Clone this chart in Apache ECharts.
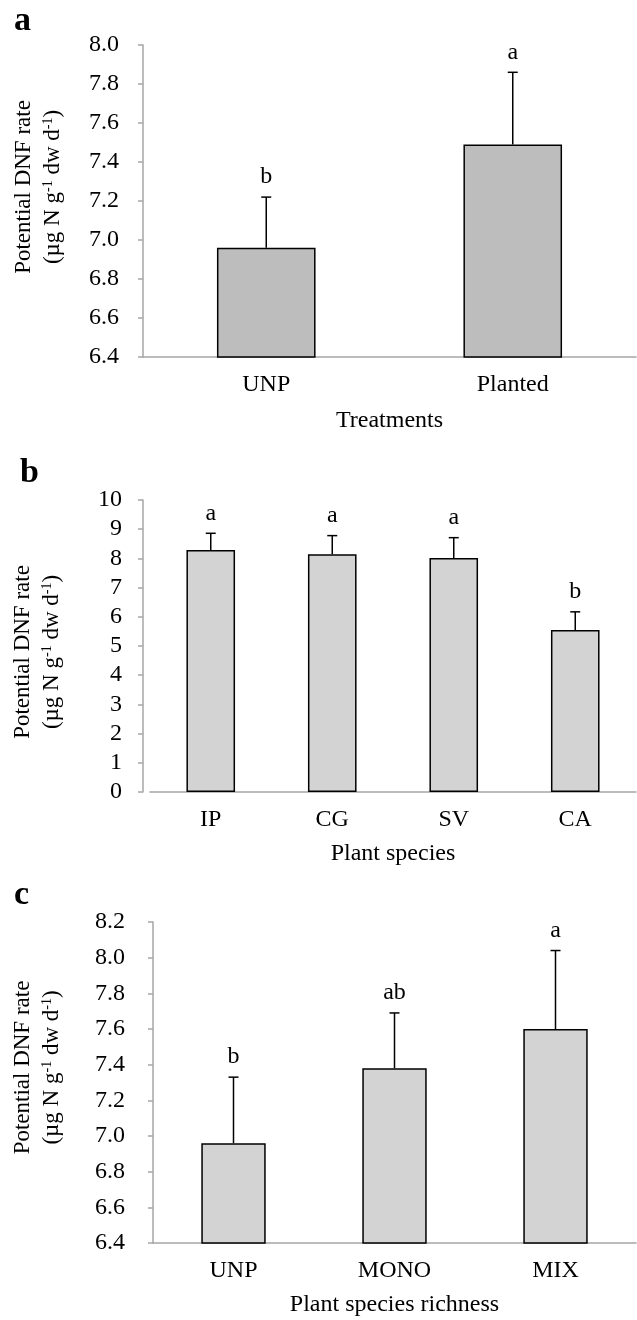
<!DOCTYPE html>
<html>
<head>
<meta charset="utf-8">
<script src="https://cdn.jsdelivr.net/npm/echarts@6/dist/echarts.min.js"></script>
<style>
  html, body { margin: 0; padding: 0; background: #fff; }
  #dnf { width: 637px; height: 1320px; }
</style>
</head>
<body>
<div id="dnf"></div>
<script>
// panel a - treatments
var catsA = ['UNP', 'Planted'];
var meanA = [6.96, 7.49];
var errA = [0.26, 0.37];
var letA = ['b', 'a'];
var ticksA = { min: 6.4, max: 8.0, interval: 0.2 };

// panel b - plant species
var catsB = ['IP', 'CG', 'SV', 'CA'];
var meanB = [8.29, 8.14, 8.01, 5.55];
var errB = [0.57, 0.64, 0.70, 0.62];
var letB = ['a', 'a', 'a', 'b'];
var ticksB = { min: 0, max: 10, interval: 1 };

// panel c - species richness
var catsC = ['UNP', 'MONO', 'MIX'];
var meanC = [6.96, 7.38, 7.60];
var errC = [0.37, 0.31, 0.44];
var letC = ['b', 'ab', 'a'];
var ticksC = { min: 6.4, max: 8.2, interval: 0.2 };

var FONT = '"Liberation Serif", "DejaVu Serif", serif';
var AXIS_COLOR = '#A6A6A6';

var myChart = echarts.init(document.getElementById('dnf'));

// y-axis title with superscripts
var yName = '{t|Potential DNF rate}\n{t|(µg N g}{s|-1}{t| dw d}{s|-1}{t|)}';
function yNameStyle(shift) {
  return {
    padding: shift > 0 ? [0, 0, 0, 2 * shift] : [0, -2 * shift, 0, 0],
    rich: {
      t: { fontSize: 23, fontFamily: FONT, color: '#000', lineHeight: 29, verticalAlign: 'bottom' },
      s: { fontSize: 14, fontFamily: FONT, color: '#000', lineHeight: 29, verticalAlign: 'bottom', padding: [0, 0, 9, 0] }
    }
  };
}

function makeX(idx, cats, name, gap) {
  return {
    type: 'category', gridIndex: idx, data: cats,
    axisLine: { lineStyle: { color: AXIS_COLOR, width: 1.5 } },
    axisTick: { length: 6, lineStyle: { color: AXIS_COLOR, width: 1.5 } },
    axisLabel: { fontSize: 24, fontFamily: FONT, color: '#000', margin: 16 },
    name: name, nameLocation: 'middle', nameGap: gap,
    nameTextStyle: { fontSize: 24, fontFamily: FONT, color: '#000' }
  };
}

function makeY(idx, t, fmt, margin, gap, shift, offset) {
  return {
    type: 'value', gridIndex: idx, min: t.min, max: t.max, interval: t.interval,
    offset: offset || 0,
    axisLine: { show: true, lineStyle: { color: AXIS_COLOR, width: 1.5 } },
    axisTick: { show: true, length: 5, lineStyle: { color: AXIS_COLOR, width: 1.5 } },
    splitLine: { show: false },
    axisLabel: {
      fontSize: 24, fontFamily: FONT, color: '#000', margin: margin,
      formatter: function (v) { return v.toFixed(fmt); }
    },
    name: yName, nameLocation: 'middle', nameRotate: 90, nameGap: gap,
    nameTextStyle: yNameStyle(shift)
  };
}

function bars(idx, vals, color) {
  return {
    type: 'bar', xAxisIndex: idx, yAxisIndex: idx, data: vals, barWidth: '40%',
    itemStyle: { color: color, borderColor: '#000', borderWidth: 1.5 },
    silent: true
  };
}

// error bar (upper half only) + significance letter
function errors(idx, vals, errs, letters) {
  var data = [];
  for (var i = 0; i < vals.length; i++) {
    data.push([i, vals[i], errs[i]]);
  }
  return {
    type: 'custom', xAxisIndex: idx, yAxisIndex: idx, data: data, z: 5,
    encode: { x: 0, y: 1 },
    renderItem: function (params, api) {
      var x = api.value(0), m = api.value(1), e = api.value(2);
      var base = api.coord([x, m]);
      var top = api.coord([x, m + e]);
      return {
        type: 'group',
        children: [
          { type: 'line', shape: { x1: base[0], y1: base[1], x2: top[0], y2: top[1] },
            style: { stroke: '#000', lineWidth: 1.5 } },
          { type: 'line', shape: { x1: top[0] - 5, y1: top[1], x2: top[0] + 5, y2: top[1] },
            style: { stroke: '#000', lineWidth: 1.5 } },
          { type: 'text', x: top[0], y: top[1] - 8,
            style: { text: letters[params.dataIndex], fontSize: 24, fontFamily: FONT,
                     fill: '#000', align: 'center', verticalAlign: 'bottom' } }
        ]
      };
    }
  };
}

function panelLetter(txt, x, y) {
  return {
    type: 'text', left: x, top: y,
    style: { text: txt, fontSize: 34, fontWeight: 'bold', fontFamily: FONT, fill: '#000' }
  };
}

var option = {
  backgroundColor: '#fff',
  animation: false,
  graphic: [
    panelLetter('a', 14, 4),
    panelLetter('b', 20, 456),
    panelLetter('c', 14, 878)
  ],
  grid: [
    { left: 143, top: 45, width: 493, height: 312 },
    { left: 150, top: 500, width: 486, height: 292 },
    { left: 153, top: 922, width: 483, height: 321 }
  ],
  xAxis: [
    makeX(0, catsA, 'Treatments', 52),
    makeX(1, catsB, 'Plant species', 50),
    makeX(2, catsC, 'Plant species richness', 50)
  ],
  yAxis: [
    makeY(0, ticksA, 1, 24, 79, 14, 0),
    makeY(1, ticksB, 0, 21, 80, -6, 7),
    makeY(2, ticksC, 1, 28, 90, 15, 0)
  ],
  series: [
    bars(0, meanA, '#BDBDBD'),
    errors(0, meanA, errA, letA),
    bars(1, meanB, '#D3D3D3'),
    errors(1, meanB, errB, letB),
    bars(2, meanC, '#D3D3D3'),
    errors(2, meanC, errC, letC)
  ]
};

myChart.setOption(option);
</script>
</body>
</html>
